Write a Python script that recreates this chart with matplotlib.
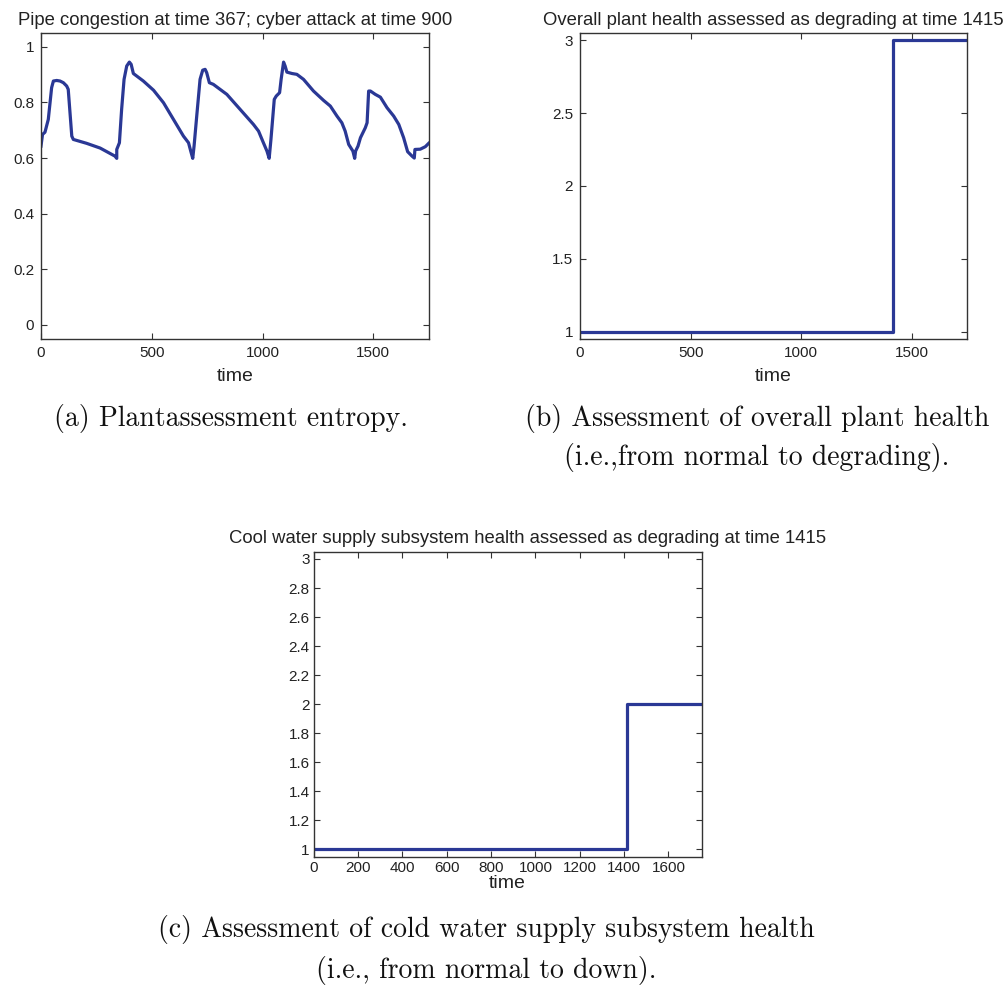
import numpy as np
import matplotlib as mpl
mpl.use('Agg')
import matplotlib.pyplot as plt

# plant assessment entropy
entropy_t = [0, 7, 18, 33, 48, 56, 71, 86, 101, 116, 123, 131, 139, 146, 206, 267, 334, 342,
             342, 354, 364, 375, 387, 399, 407, 417, 462, 508, 553, 598, 643, 666, 676, 685,
             691, 703, 718, 730, 741, 748, 760, 778, 839, 899, 959, 982, 1004, 1020, 1030,
             1038, 1053, 1062, 1077, 1084, 1095, 1102, 1110, 1133, 1155, 1185, 1230, 1276,
             1306, 1336, 1358, 1373, 1389, 1408, 1416, 1420, 1431, 1442, 1464, 1472, 1479,
             1487, 1509, 1532, 1562, 1592, 1615, 1637, 1655, 1675, 1685, 1688, 1712, 1735, 1750]
entropy_v = [0.643, 0.685, 0.693, 0.739, 0.853, 0.877, 0.879, 0.877, 0.871, 0.859, 0.847, 0.763,
             0.679, 0.667, 0.653, 0.636, 0.607, 0.599,
             0.631, 0.655, 0.775, 0.883, 0.931, 0.945, 0.937, 0.904, 0.877, 0.844, 0.799, 0.739,
             0.679, 0.655, 0.625, 0.599,
             0.643, 0.751, 0.883, 0.916, 0.919, 0.907, 0.871, 0.865, 0.829, 0.775, 0.721, 0.697,
             0.655, 0.625, 0.599,
             0.667, 0.811, 0.823, 0.835, 0.883, 0.945, 0.931, 0.909, 0.904, 0.901, 0.883, 0.841,
             0.807, 0.787, 0.751, 0.727, 0.697, 0.649, 0.625, 0.599, 0.625, 0.643, 0.673, 0.709,
             0.727, 0.841, 0.841, 0.829, 0.819, 0.781, 0.751, 0.721, 0.673, 0.623, 0.607, 0.600,
             0.631, 0.632, 0.641, 0.653]

# health states: step at time 1415
step_t = [0, 1415, 1750]
plant_health = [1, 3, 3]
water_health = [1, 2, 2]

titles = ['Pipe congestion at time 367; cyber attack at time 900',
          'Overall plant health assessed as degrading at time 1415',
          'Cool water supply subsystem health assessed as degrading at time 1415']

LINE_C = '#2a3895'
TXT_C = '#222222'
SANS = 'Liberation Sans'
SERIF = 'cmr10'
TITLE_FS = 13.3
LABEL_FS = 14


def style_axes(ax):
    ax.tick_params(direction='in', top=True, right=True, length=4, width=0.8,
                   labelsize=11, colors='#333333', labelcolor=TXT_C, pad=5)
    for s in ax.spines.values():
        s.set_color('#333333')
        s.set_linewidth(1.0)
    for lab in ax.get_xticklabels() + ax.get_yticklabels():
        lab.set_family(SANS)


fig = plt.figure(figsize=(10.07, 9.88), dpi=100)

# (a)
ax1 = fig.add_axes([0.0407, 0.657, 0.385, 0.3097])
ax1.plot(entropy_t, entropy_v, color=LINE_C, lw=2.3)
ax1.set_xlim(0, 1750)
ax1.set_ylim(-0.05, 1.05)
ax1.set_xticks([0, 500, 1000, 1500])
ax1.set_yticks([0, 0.2, 0.4, 0.6, 0.8, 1])
ax1.set_yticklabels(['0', '0.2', '0.4', '0.6', '0.8', '1'])
ax1.set_title(titles[0], fontsize=TITLE_FS, family=SANS, color=TXT_C, pad=6)
ax1.set_xlabel('time', fontsize=LABEL_FS, family=SANS, color=TXT_C, labelpad=6)
style_axes(ax1)

# (b)
ax2 = fig.add_axes([0.576, 0.657, 0.3846, 0.3097])
ax2.plot(step_t, plant_health, color=LINE_C, lw=2.3, drawstyle='steps-post')
ax2.set_xlim(0, 1750)
ax2.set_ylim(0.95, 3.05)
ax2.set_xticks([0, 500, 1000, 1500])
ax2.set_yticks([1, 1.5, 2, 2.5, 3])
ax2.set_yticklabels(['1', '1.5', '2', '2.5', '3'])
ax2.set_title(titles[1], fontsize=TITLE_FS, family=SANS, color=TXT_C, pad=6)
ax2.set_xlabel('time', fontsize=LABEL_FS, family=SANS, color=TXT_C, labelpad=6)
style_axes(ax2)

# (c)
ax3 = fig.add_axes([0.3115, 0.1329, 0.3853, 0.3087])
ax3.plot(step_t, water_health, color=LINE_C, lw=2.3, drawstyle='steps-post')
ax3.set_xlim(0, 1750)
ax3.set_ylim(0.95, 3.05)
ax3.set_xticks(np.arange(0, 1700, 200))
c_yt = [1, 1.2, 1.4, 1.6, 1.8, 2, 2.2, 2.4, 2.6, 2.8, 3]
ax3.set_yticks(c_yt)
ax3.set_yticklabels(['%g' % v for v in c_yt])
ax3.set_title(titles[2], fontsize=TITLE_FS, family=SANS, color=TXT_C, pad=6, x=0.552)
ax3.set_xlabel('time', fontsize=LABEL_FS, family=SANS, color=TXT_C, labelpad=0)
style_axes(ax3)
ax3.tick_params(pad=3)

# captions
cap = dict(fontsize=20, family=SERIF, color='#111111', ha='center', va='center')
fig.text(231 / 1007, 1 - 418 / 988, '(a) Plantassessment entropy.', **cap)
fig.text(757 / 1007, 1 - 418 / 988, '(b) Assessment of overall plant health', **cap)
fig.text(757 / 1007, 1 - 458 / 988, '(i.e.,from normal to degrading).', **cap)
fig.text(486 / 1007, 1 - 929 / 988, '(c) Assessment of cold water supply subsystem health', **cap)
fig.text(486 / 1007, 1 - 970 / 988, '(i.e., from normal to down).', **cap)

fig.savefig('out.png', dpi=100)
